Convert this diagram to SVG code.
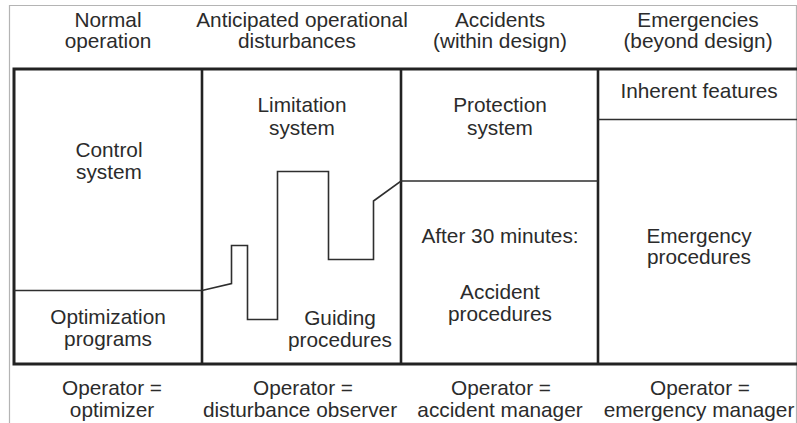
<svg xmlns="http://www.w3.org/2000/svg" width="797" height="423" viewBox="0 0 797 423">
  <style>
    text { font-family: "Liberation Sans", Arial, Helvetica, sans-serif; font-size: 20.8px; fill: #2b2b2b; text-anchor: middle; }
    .frame { fill: none; stroke: #b4b4b4; stroke-width: 1.2; }
    .box { fill: none; stroke: #222; stroke-width: 3; }
    .col { fill: none; stroke: #222; stroke-width: 2.6; }
    .thin { fill: none; stroke: #2e2e2e; stroke-width: 1.6; stroke-linejoin: miter; }
  </style>

  <rect width="797" height="423" fill="#fff"/>
  <!-- outer page frame -->
  <path class="frame" d="M9.5,430 V5.5 H796.5 V430"/>

  <!-- column headings -->
  <g id="head-normal">
    <text x="108" y="27">Normal</text>
    <text x="108" y="48">operation</text>
  </g>
  <g id="head-anticipated">
    <text x="302" y="27">Anticipated operational</text>
    <text x="297" y="48">disturbances</text>
  </g>
  <g id="head-accidents">
    <text x="500" y="27">Accidents</text>
    <text x="500" y="48">(within design)</text>
  </g>
  <g id="head-emergencies">
    <text x="698" y="27">Emergencies</text>
    <text x="698" y="48">(beyond design)</text>
  </g>

  <!-- table frame and column dividers -->
  <g id="table">
    <path class="box" d="M797,69 H14 V364 H797"/>
    <line class="col" x1="202" y1="69" x2="202" y2="364"/>
    <line class="col" x1="401" y1="69" x2="401" y2="364"/>
    <line class="col" x1="598" y1="69" x2="598" y2="364"/>
  </g>

  <!-- boundaries between the regions inside the columns -->
  <g id="connectors">
    <polyline class="thin" points="14,290.5 202,290.5 231.5,283.5 231.5,245.5 247.5,245.5 247.5,319.5 277.5,319.5 277.5,171.5 328.5,171.5 328.5,259.5 373.5,259.5 373.5,201 401,181 598,181"/>
    <line class="thin" x1="598" y1="119.5" x2="797" y2="119.5"/>
  </g>

  <!-- cells -->
  <g id="control-system">
    <text x="109" y="157">Control</text>
    <text x="109" y="179">system</text>
  </g>
  <g id="optimization-programs">
    <text x="108" y="324">Optimization</text>
    <text x="108" y="346">programs</text>
  </g>
  <g id="limitation-system">
    <text x="302" y="112">Limitation</text>
    <text x="302" y="135">system</text>
  </g>
  <g id="guiding-procedures">
    <text x="340" y="325">Guiding</text>
    <text x="340" y="347">procedures</text>
  </g>
  <g id="protection-system">
    <text x="500" y="112">Protection</text>
    <text x="500" y="135">system</text>
  </g>
  <g id="accident-procedures">
    <text x="500" y="243">After 30 minutes:</text>
    <text x="500" y="299">Accident</text>
    <text x="500" y="321">procedures</text>
  </g>
  <g id="inherent-features">
    <text x="699" y="98">Inherent features</text>
  </g>
  <g id="emergency-procedures">
    <text x="699" y="243">Emergency</text>
    <text x="699" y="264">procedures</text>
  </g>

  <!-- operator roles -->
  <g id="role-normal">
    <text x="112" y="395">Operator =</text>
    <text x="112" y="417">optimizer</text>
  </g>
  <g id="role-anticipated">
    <text x="303" y="395">Operator =</text>
    <text x="300" y="417">disturbance observer</text>
  </g>
  <g id="role-accidents">
    <text x="501" y="395">Operator =</text>
    <text x="500" y="417">accident manager</text>
  </g>
  <g id="role-emergencies">
    <text x="700" y="395">Operator =</text>
    <text x="699" y="417">emergency manager</text>
  </g>
</svg>
